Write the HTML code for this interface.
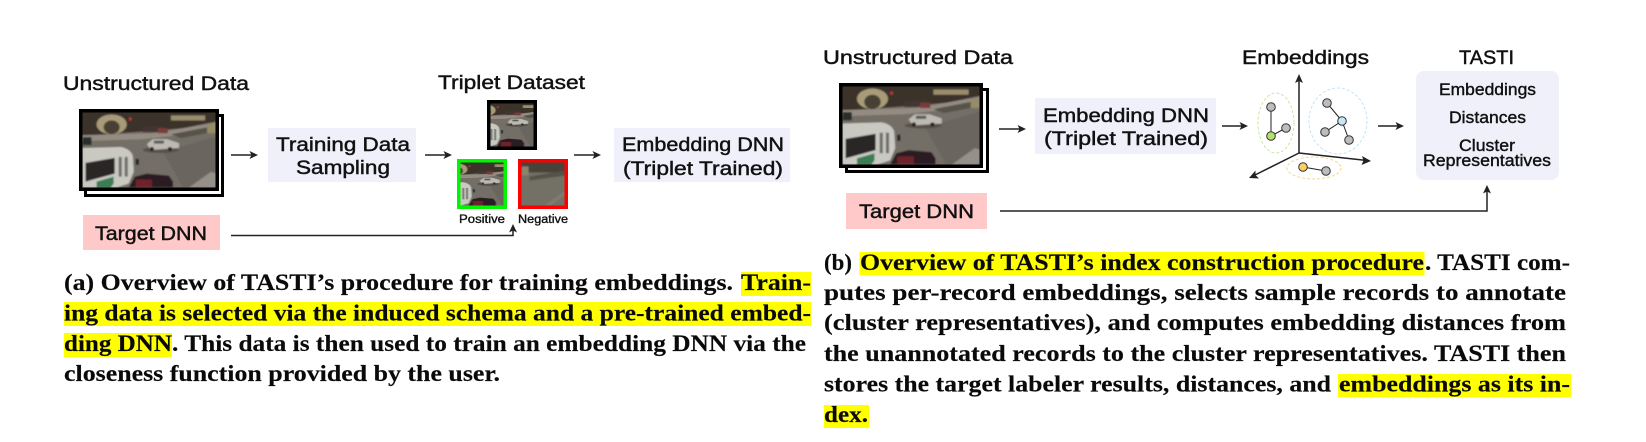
<!DOCTYPE html>
<html><head><meta charset="utf-8">
<style>
html,body{margin:0;padding:0;background:#fff;width:1646px;height:442px;overflow:hidden}
svg{display:block}
.s{font-family:"Liberation Sans",sans-serif;fill:#111;stroke:#111;stroke-width:.45px}
.l{font-size:19.5px}.m{font-size:16.5px;stroke-width:.4px}.t{font-size:11.5px;stroke-width:.35px}
.c{font-family:"Liberation Serif",serif;font-weight:bold;font-size:23px;fill:#0a0a0a;stroke:#0a0a0a;stroke-width:.15px}
.a{stroke:#222;stroke-width:1.5;fill:none}
.h{fill:#222}
</style></head><body>
<svg width="1646" height="442" viewBox="0 0 1646 442" xmlns="http://www.w3.org/2000/svg">
<defs>
<filter id="b" x="-5%" y="-5%" width="110%" height="110%"><feGaussianBlur stdDeviation=".7"/></filter>
<g id="scene">
<g filter="url(#b)">
<rect x="-2" y="-2" width="140" height="82" fill="#736e66"/>
<polygon points="80,40 134,24 134,76 100,76" fill="#6a665e"/>
<polygon points="-2,-2 138,-2 138,8 100,16 0,24 -2,24" fill="#3a322a"/>
<polygon points="-2,23 70,21 100,16 134,10 134,14 105,22 60,27 -2,29" fill="#948c82"/>
<polygon points="88,22 134,13 134,19 98,26" fill="#57534b"/>
<ellipse cx="29" cy="12" rx="15" ry="10" fill="#a99b78"/>
<ellipse cx="29" cy="15" rx="8" ry="7" fill="#4a4136"/>
<rect x="46" y="5" width="3" height="3" fill="#b43434"/>
<rect x="88" y="3" width="34" height="5" fill="#9a8c6c"/>
<rect x="60" y="14" width="22" height="6" fill="#453632"/>
<rect x="75" y="16" width="10" height="5" fill="#7c3a3a"/>
<rect x="0" y="25" width="9" height="8" fill="#2c2e2c"/>
<rect x="124" y="12" width="10" height="9" fill="#968c68"/>
<ellipse cx="78" cy="38" rx="18" ry="3" fill="#56514a"/>
<path d="M64 32 L70 27 L84 27 L96 31 L96 36 L68 38 Z" fill="#bdbab2"/>
<rect x="71" y="28.500" width="10" height="3" fill="#5a5a58"/>
<circle cx="69" cy="37" r="2" fill="#222"/><circle cx="87" cy="37" r="2" fill="#222"/>
<path d="M0 36 L38 35 Q48 37 50 44 L51 60 L46 72 L34 76 L0 76 Z" fill="#c9c9c2"/>
<polygon points="3,51 32,46 32,62 3,70" fill="#2c2828"/>
<rect x="36" y="45" width="3" height="20" fill="#6e6e68"/><rect x="42" y="45" width="3" height="20" fill="#6e6e68"/>
<polygon points="14,76 14,70 31,65 31,72 28,76" fill="#3e7d55"/>
<rect x="53" y="47" width="3" height="6" fill="#222"/>
<path d="M46 76 L52 65 L64 62 L86 64 L90 70 L90 76 Z" fill="#2b1d20"/>
<rect x="53" y="68" width="16" height="8" fill="#70242a"/>
<polygon points="106,76 128,60 134,62 134,76" fill="#96908a"/>
</g>
</g>
<g id="neg">
<g filter="url(#b)">
<rect x="-2" y="-2" width="48" height="48" fill="#736f66"/>
<rect x="-2" y="-2" width="48" height="12" fill="#4a4238"/>
<rect x="0" y="4" width="7" height="9" fill="#8d8470"/>
<polygon points="8,14 44,8 44,13 8,18" fill="#55524a"/>
<polygon points="22,44 44,28 44,32 28,44" fill="#807b71"/>
</g>
</g>
</defs>

<!-- LEFT PANEL -->
<text class="s l" lengthAdjust="spacingAndGlyphs" x="63" y="90" textLength="186">Unstructured Data</text>
<rect x="85.500" y="115.500" width="137" height="80" fill="#fff" stroke="#000" stroke-width="3"/>
<svg x="82.500" y="112.500" width="134.700" height="75" viewBox="0 0 134 76" preserveAspectRatio="none"><use href="#scene"/></svg>
<rect x="80.750" y="110.750" width="136.500" height="78.500" fill="none" stroke="#000" stroke-width="3.500"/>

<rect x="268" y="128" width="148" height="54" fill="#f0f0fb"/>
<text class="s l" lengthAdjust="spacingAndGlyphs" x="276" y="151" textLength="134">Training Data</text>
<text class="s l" lengthAdjust="spacingAndGlyphs" x="296" y="174" textLength="94">Sampling</text>

<rect x="83" y="215" width="137" height="35" fill="#ffc9c9"/>
<text class="s l" lengthAdjust="spacingAndGlyphs" x="95" y="240" textLength="112">Target DNN</text>

<path class="a" d="M231 155H254"/><path class="h" d="M258 155L249.500 151L251.500 155L249.500 159Z"/>
<path class="a" d="M425 155H448"/><path class="h" d="M452 155L443.500 151L445.500 155L443.500 159Z"/>
<path class="a" d="M574 155H597"/><path class="h" d="M601 155L592.500 151L594.500 155L592.500 159Z"/>
<path class="a" d="M231 235.500H513V228"/><path class="h" d="M513 224L509 232.500L513 230.500L517 232.500Z"/>

<text class="s l" lengthAdjust="spacingAndGlyphs" x="438" y="89" textLength="147">Triplet Dataset</text>
<svg x="490.500" y="103.500" width="43" height="43" viewBox="36 0 69 76" preserveAspectRatio="none"><use href="#scene"/></svg>
<rect x="488.750" y="101.750" width="46.500" height="46.500" fill="none" stroke="#000" stroke-width="3.500"/>
<svg x="460.500" y="162.500" width="43" height="43" viewBox="33 0 69 76" preserveAspectRatio="none"><use href="#scene"/></svg>
<rect x="458.750" y="160.750" width="46.500" height="46.500" fill="none" stroke="#00f500" stroke-width="3.500"/>
<svg x="521.500" y="162.500" width="43" height="43" viewBox="0 0 43 43"><use href="#neg"/></svg>
<rect x="519.750" y="160.750" width="46.500" height="46.500" fill="none" stroke="#fa0000" stroke-width="3.500"/>
<text class="s t" lengthAdjust="spacingAndGlyphs" x="459" y="223" textLength="46">Positive</text>
<text class="s t" lengthAdjust="spacingAndGlyphs" x="518" y="223" textLength="50">Negative</text>

<rect x="614" y="128" width="176" height="54" fill="#f0f0fb"/>
<text class="s l" lengthAdjust="spacingAndGlyphs" x="622" y="151" textLength="162">Embedding DNN</text>
<text class="s l" lengthAdjust="spacingAndGlyphs" x="623" y="175" textLength="160">(Triplet Trained)</text>

<!-- RIGHT PANEL -->
<text class="s l" lengthAdjust="spacingAndGlyphs" x="823" y="64" textLength="190">Unstructured Data</text>
<rect x="846.500" y="89.500" width="141" height="82" fill="#fff" stroke="#000" stroke-width="3"/>
<svg x="842.500" y="86.500" width="138.500" height="78" viewBox="0 0 134 76" preserveAspectRatio="none"><use href="#scene"/></svg>
<rect x="840.750" y="84.750" width="140.500" height="81.500" fill="none" stroke="#000" stroke-width="3.500"/>

<rect x="1035" y="98" width="181" height="56" fill="#f0f0fb"/>
<text class="s l" lengthAdjust="spacingAndGlyphs" x="1043" y="122" textLength="166">Embedding DNN</text>
<text class="s l" lengthAdjust="spacingAndGlyphs" x="1044" y="145" textLength="164">(Triplet Trained)</text>

<rect x="846" y="193" width="141" height="36" fill="#ffc9c9"/>
<text class="s l" lengthAdjust="spacingAndGlyphs" x="859" y="218" textLength="115">Target DNN</text>

<path class="a" d="M999 129H1022"/><path class="h" d="M1026 129L1017.500 125L1019.500 129L1017.500 133Z"/>
<path class="a" d="M1222 126H1244"/><path class="h" d="M1248 126L1239.500 122L1241.500 126L1239.500 130Z"/>
<path class="a" d="M1378 126H1400"/><path class="h" d="M1404 126L1395.500 122L1397.500 126L1395.500 130Z"/>
<path class="a" d="M1000 211H1487V189"/><path class="h" d="M1487 185L1483 193.500L1487 191.500L1491 193.500Z"/>

<text class="s l" lengthAdjust="spacingAndGlyphs" x="1242" y="64" textLength="127">Embeddings</text>
<text class="s l" lengthAdjust="spacingAndGlyphs" x="1459" y="64" textLength="55">TASTI</text>

<!-- axes -->
<path class="a" d="M1299 153V78M1299 153L1367 160.500M1299 153L1253 176"/>
<path class="h" d="M1299 74L1295 83L1299 81L1303 83Z"/>
<path class="h" d="M1371 161L1362 156L1363.500 160.500L1361.500 165Z"/>
<path class="h" d="M1249 178L1259 178.500L1255.500 175L1255.500 170.500Z"/>
<ellipse cx="1276" cy="123" rx="18" ry="30" fill="none" stroke="#c9e6a0" stroke-width="1" stroke-dasharray="3 2"/>
<ellipse cx="1338" cy="121" rx="29" ry="33" fill="none" stroke="#c3e2f6" stroke-width="1" stroke-dasharray="3 2"/>
<ellipse cx="1314" cy="168" rx="27" ry="11" fill="none" stroke="#f9d68e" stroke-width="1" stroke-dasharray="3 2"/>
<g stroke="#222" stroke-width="1" fill="none">
<path d="M1271 107V136M1271 136L1286 128M1327 103L1342 121M1342 121L1325 132M1342 121L1349 140M1303 167L1326 171"/>
</g>
<g stroke="#333" stroke-width="1">
<g fill="#bdbdbd">
<circle cx="1271" cy="107" r="4.300"/><circle cx="1286" cy="128" r="4.300"/>
<circle cx="1327" cy="103" r="4.300"/><circle cx="1325" cy="132" r="4.300"/><circle cx="1349" cy="140" r="4.300"/>
<circle cx="1326" cy="171" r="4.300"/>
</g>
<circle cx="1271" cy="136" r="4.300" fill="#b5e06a"/>
<circle cx="1342" cy="121" r="4.300" fill="#c8e6fa"/>
<circle cx="1303" cy="167" r="4.300" fill="#fbcf66"/>
</g>

<rect x="1416" y="71" width="143" height="109" rx="8" fill="#f0f0fb"/>
<text class="s m" lengthAdjust="spacingAndGlyphs" x="1439" y="95" textLength="97">Embeddings</text>
<text class="s m" lengthAdjust="spacingAndGlyphs" x="1449" y="123" textLength="77">Distances</text>
<text class="s m" lengthAdjust="spacingAndGlyphs" x="1459" y="151" textLength="56">Cluster</text>
<text class="s m" lengthAdjust="spacingAndGlyphs" x="1423" y="166" textLength="128">Representatives</text>

<!-- CAPTION A -->
<rect x="741" y="272" width="70" height="24" fill="#ffff00"/>
<rect x="64" y="302" width="747" height="24" fill="#ffff00"/>
<rect x="64" y="333" width="108" height="24" fill="#ffff00"/>
<text class="c" lengthAdjust="spacingAndGlyphs" x="64" y="290" textLength="669">(a) Overview of TASTI’s procedure for training embeddings.</text>
<text class="c" lengthAdjust="spacingAndGlyphs" x="741" y="290" textLength="70">Train-</text>
<text class="c" lengthAdjust="spacingAndGlyphs" x="64" y="320.500" textLength="747">ing data is selected via the induced schema and a pre-trained embed-</text>
<text class="c" lengthAdjust="spacingAndGlyphs" x="64" y="351" textLength="108">ding DNN</text>
<text class="c" lengthAdjust="spacingAndGlyphs" x="172" y="351" textLength="634">. This data is then used to train an embedding DNN via the</text>
<text class="c" lengthAdjust="spacingAndGlyphs" x="64" y="381" textLength="436">closeness function provided by the user.</text>

<!-- CAPTION B -->
<rect x="859.500" y="252" width="565" height="23" fill="#ffff00"/>
<rect x="1338" y="374" width="233" height="23" fill="#ffff00"/>
<rect x="824" y="405" width="45" height="23" fill="#ffff00"/>
<text class="c" lengthAdjust="spacingAndGlyphs" x="824" y="270" textLength="28">(b)</text>
<text class="c" lengthAdjust="spacingAndGlyphs" x="860" y="270" textLength="564">Overview of TASTI’s index construction procedure</text>
<text class="c" lengthAdjust="spacingAndGlyphs" x="1425" y="270" textLength="145">. TASTI com-</text>
<text class="c" lengthAdjust="spacingAndGlyphs" x="824" y="300" textLength="742">putes per-record embeddings, selects sample records to annotate</text>
<text class="c" lengthAdjust="spacingAndGlyphs" x="824" y="330" textLength="742">(cluster representatives), and computes embedding distances from</text>
<text class="c" lengthAdjust="spacingAndGlyphs" x="824" y="361" textLength="742">the unannotated records to the cluster representatives. TASTI then</text>
<text class="c" lengthAdjust="spacingAndGlyphs" x="824" y="391.500" textLength="507">stores the target labeler results, distances, and</text>
<text class="c" lengthAdjust="spacingAndGlyphs" x="1339" y="391.500" textLength="231">embeddings as its in-</text>
<text class="c" lengthAdjust="spacingAndGlyphs" x="824" y="422" textLength="44">dex.</text>
</svg>
</body></html>
